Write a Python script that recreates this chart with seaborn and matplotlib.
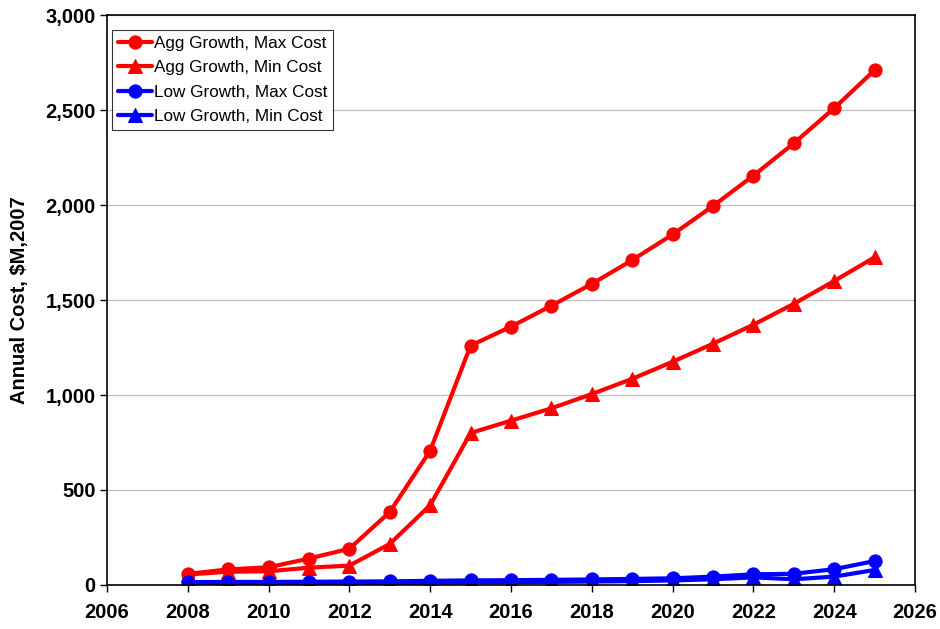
import numpy as np
import pandas as pd
import matplotlib
matplotlib.use("Agg")
import matplotlib.pyplot as plt
import seaborn as sns
from matplotlib.ticker import FuncFormatter, MultipleLocator

# data
years = list(range(2008, 2026))
agg_max = [58, 82, 93, 139, 191, 384, 707, 1260, 1360, 1470, 1585, 1710, 1845, 1995, 2155, 2325, 2510, 2710]
agg_min = [55, 70, 72, 91, 102, 216, 420, 800, 865, 930, 1005, 1085, 1175, 1270, 1370, 1480, 1600, 1725]
low_max = [15, 16, 16, 17, 18, 19, 22, 24, 25, 27, 29, 32, 35, 44, 56, 59, 83, 126]
low_min = [8, 9, 9, 10, 10, 11, 12, 13, 15, 16, 18, 20, 24, 30, 40, 30, 44, 79]

series = [
    ("Agg Growth, Max Cost", agg_max, "#FF0000", "o"),
    ("Agg Growth, Min Cost", agg_min, "#FF0000", "^"),
    ("Low Growth, Max Cost", low_max, "#0000FF", "o"),
    ("Low Growth, Min Cost", low_min, "#0000FF", "^"),
]

sns.set_style("white")
plt.rcParams['font.family'] = ['Liberation Sans', 'DejaVu Sans']
plt.rcParams['text.color'] = 'black'
plt.rcParams['axes.labelcolor'] = 'black'
plt.rcParams['xtick.color'] = 'black'
plt.rcParams['ytick.color'] = 'black'

fig = plt.figure(figsize=(9.4, 6.29), dpi=100)
ax = fig.add_axes([0.1138, 0.07, 0.8596, 0.906])

for name, vals, col, mk in series:
    df = pd.DataFrame({"year": years, "cost": vals})
    sns.lineplot(data=df, x="year", y="cost", ax=ax, color=col, marker=mk,
                 markersize=9.5, linewidth=3.0, markeredgecolor=col, label=name)

ax.set_xlim(2006, 2026)
ax.set_ylim(0, 3000)
ax.xaxis.set_major_locator(MultipleLocator(2))
ax.yaxis.set_major_locator(MultipleLocator(500))
ax.yaxis.set_major_formatter(FuncFormatter(lambda v, p: f"{int(v):,}"))
ax.yaxis.grid(True, color="#c0c0c0", linewidth=0.9)
ax.xaxis.grid(False)
ax.set_axisbelow(True)

for s in ax.spines.values():
    s.set_color("black")
    s.set_linewidth(1.2)

ax.tick_params(axis="both", direction="out", length=5, width=1, color="black",
               labelcolor="black", labelsize=14.5, bottom=True, left=True)
ax.tick_params(axis="x", pad=8)
ax.tick_params(axis="y", pad=3)
for lab in ax.get_xticklabels() + ax.get_yticklabels():
    lab.set_fontweight("bold")

ax.set_xlabel("")
ax.set_ylabel("Annual Cost, $M,2007", fontsize=14.5, fontweight="bold", labelpad=12)

leg = ax.legend(loc="upper left", bbox_to_anchor=(0.006, 0.974), fontsize=12.3,
                frameon=True, fancybox=False, shadow=False, handlelength=2.0,
                handletextpad=0.1, borderpad=0.35, borderaxespad=0,
                labelspacing=0.55)
leg.get_frame().set_edgecolor("black")
leg.get_frame().set_linewidth(0.8)

fig.savefig("out.png", dpi=100)
